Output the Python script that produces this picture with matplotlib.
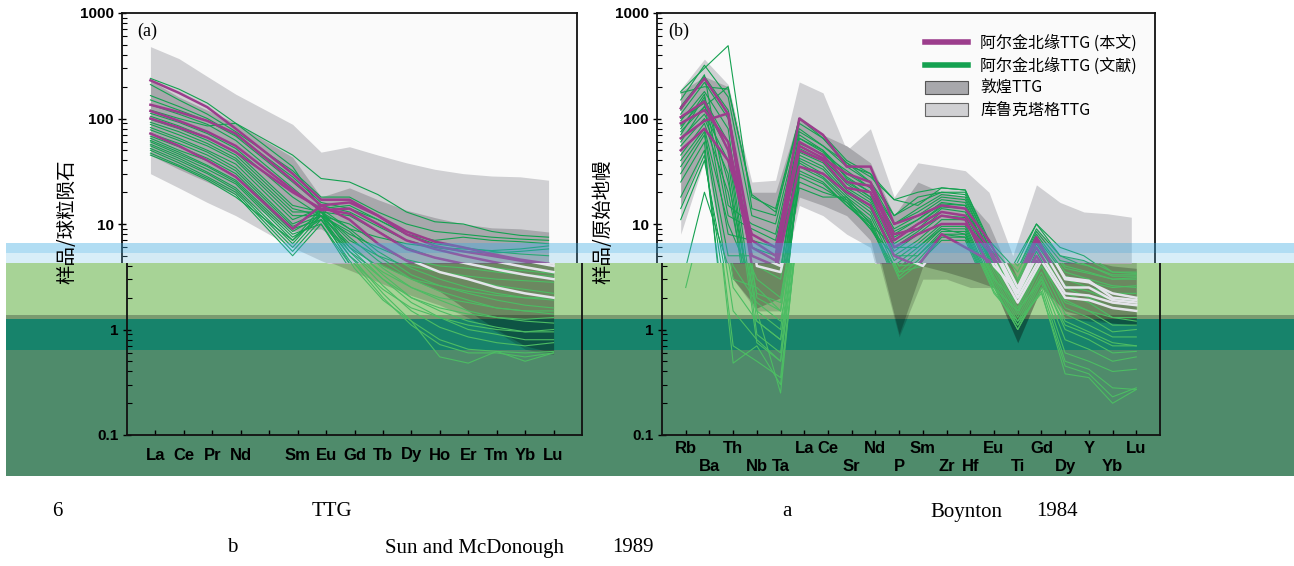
import numpy as np
import matplotlib
matplotlib.use("Agg")
import matplotlib.pyplot as plt
import matplotlib.ticker as mticker
from matplotlib.patches import Rectangle, Patch
from matplotlib.lines import Line2D
from matplotlib.transforms import Bbox, TransformedBbox
from matplotlib.font_manager import FontProperties

plt.rcParams["font.family"] = ["Liberation Sans", "DejaVu Sans"]
CJK = ["Noto Sans CJK SC", "DejaVu Sans"]
SERIF = ["Liberation Serif", "DejaVu Serif"]

# ─────────────────────────────────────────────
# DATA  (a) chondrite-normalised REE
# ─────────────────────────────────────────────
ree_labels = ["La", "Ce", "Pr", "Nd", "", "Sm", "Eu", "Gd", "Tb", "Dy", "Ho", "Er", "Tm", "Yb", "Lu"]
ree_pos = [1, 2, 3, 4, 6, 7, 8, 9, 10, 11, 12, 13, 14, 15]   # Pm (5) has no data

kl_hi_a = [480, 370, 250, 170, 88, 48, 54, 45, 38, 33, 30, 28.5, 28, 26]
kl_lo_a = [30, 22, 16, 12, 6, 4.5, 3.5, 2.7, 2.1, 1.7, 1.3, 0.95, 0.65, 0.58]
dh_hi_a = [230, 160, 120, 90, 43, 18, 22, 17, 13.5, 11.5, 10, 9.2, 9, 8.4]
dh_lo_a = [45, 33, 25, 19, 8.5, 9, 6, 4, 3, 2.3, 1.5, 1.0, 0.7, 0.6]

mag_a = [
    [230, 175, 128, 80, 30, 17, 17, 12, 8, 6.2, 5.5, 5, 4.5, 4],
    [135, 115, 95, 72, 26, 15, 16, 12, 8.5, 6.8, 6, 5.2, 4.6, 4.2],
    [118, 95, 75, 55, 21, 13.5, 14, 10, 7, 5.8, 5, 4.4, 3.9, 3.5],
    [100, 82, 66, 48, 20, 14, 12.5, 8.5, 5.8, 4.8, 4.2, 3.7, 3.3, 3.0],
    [72, 55, 40, 28, 9, 15, 11, 6.5, 4.5, 3.5, 3.0, 2.5, 2.2, 2.0],
]

grn_a = [
    [240, 190, 140, 90, 45, 27, 25, 19, 13, 10.5, 10, 8.5, 7.8, 7.5],
    [210, 150, 110, 75, 32, 18, 18, 13, 10, 8.5, 8, 7.5, 7.2, 7.0],
    [165, 130, 100, 70, 28, 16, 14, 11, 8, 6.5, 6, 5.5, 5.2, 5.0],
    [150, 120, 95, 68, 25, 15, 13, 9.5, 7, 6, 5.5, 5.3, 5.5, 5.8],
    [135, 110, 88, 62, 22, 13, 12, 8.5, 6, 4.8, 4.2, 3.8, 3.6, 3.4],
    [120, 100, 85, 90, 35, 14, 15, 11, 8, 7, 7.5, 7, 6.8, 6.5],
    [112, 92, 72, 52, 18, 12, 10, 6.5, 4.5, 3.5, 3.0, 2.6, 2.4, 2.2],
    [105, 85, 66, 48, 15, 13, 9, 5.5, 3.8, 3.0, 2.5, 2.2, 2.0, 1.9],
    [98, 80, 62, 45, 14, 12, 8.5, 5, 3.3, 2.6, 2.2, 1.9, 1.7, 1.6],
    [92, 75, 58, 42, 13, 13, 7.5, 4.5, 3.0, 2.3, 1.9, 1.6, 1.5, 1.4],
    [88, 70, 55, 40, 12, 12, 6.5, 3.8, 2.5, 1.9, 1.5, 1.3, 1.2, 1.15],
    [82, 65, 50, 37, 11, 14, 6, 3.3, 2.0, 1.5, 1.2, 1.05, 0.95, 0.95],
    [78, 62, 48, 34, 10, 13, 5.5, 3.0, 1.8, 1.3, 1.0, 0.9, 0.8, 0.8],
    [72, 58, 45, 32, 9.5, 12, 5, 2.6, 1.5, 1.05, 0.85, 0.75, 0.7, 0.75],
    [68, 54, 42, 30, 9, 11, 4.5, 2.2, 1.2, 0.8, 0.65, 0.62, 0.6, 0.62],
    [65, 50, 40, 28, 8.5, 12, 4.2, 2.0, 1.1, 0.72, 0.6, 0.6, 0.55, 0.6],
    [62, 48, 36, 26, 8, 10, 3.8, 1.9, 1.2, 0.55, 0.48, 0.62, 0.5, 0.6],
    [60, 46, 35, 25, 7.5, 11, 5.5, 3.5, 2.5, 2.0, 1.8, 1.6, 1.5, 1.5],
    [57, 44, 33, 24, 7, 12, 6, 4, 3, 2.6, 2.3, 2.1, 2.0, 2.0],
    [55, 42, 31, 22, 6.5, 13, 7, 5, 4, 3.5, 3.2, 3.0, 2.9, 2.8],
    [52, 40, 30, 21, 6, 12, 8, 6, 4.6, 4, 3.8, 3.5, 3.3, 3.2],
    [50, 38, 28, 20, 5.5, 11, 5, 3, 2, 1.6, 1.4, 1.3, 1.25, 1.3],
    [47, 36, 27, 19, 5, 10, 4.2, 2.4, 1.6, 1.3, 1.1, 1.0, 0.95, 1.0],
    [45, 35, 26, 18, 7, 14, 9, 7.5, 6.5, 6, 5.8, 5.6, 5.8, 6.2],
]

# ─────────────────────────────────────────────
# DATA  (b) primitive-mantle-normalised spider
# ─────────────────────────────────────────────
spd_labels = ["Rb", "Ba", "Th", "Nb", "Ta", "La", "Ce", "Sr", "Nd", "P",
              "Sm", "Zr", "Hf", "Eu", "Ti", "Gd", "Dy", "Y", "Yb", "Lu"]
spd_row = [0, 1, 0, 1, 1, 0, 0, 1, 0, 1, 0, 1, 1, 0, 1, 0, 1, 0, 1, 0]
spd_pos = list(range(1, 21))

kl_hi_b = [190, 365, 210, 25, 26, 222, 175, 50, 80, 18, 38, 35, 32, 20, 5, 23.5, 16, 13, 12.5, 11.6]
kl_lo_b = [8, 40, 3, 1.5, 1.5, 15, 12, 8, 6, 0.85, 3, 3, 2.5, 2.5, 0.75, 2.5, 1.3, 1.2, 1.15, 1.1]
dh_hi_b = [180, 250, 200, 20, 20, 105, 70, 55, 38, 12, 25, 20, 18, 10, 3, 9, 5, 4.5, 4, 3.8]
dh_lo_b = [15, 50, 3, 1.6, 2, 18, 15, 12, 7, 0.9, 4, 3.5, 3, 2.5, 0.75, 2.5, 1.5, 1.3, 1.15, 1.1]

mag_b = [
    [125, 240, 110, 7, 5, 100, 70, 35, 35, 10, 12, 15, 14, 7, 2.5, 7.5, 3, 2.8, 2.2, 2.0],
    [103, 145, 50, 5, 4, 60, 45, 25, 23, 7, 10, 13, 12, 6, 2.2, 6, 2.5, 2.5, 1.9, 1.8],
    [90, 120, 60, 6, 4.5, 50, 40, 22, 20, 6, 8, 10, 10, 5.5, 2, 5, 2.2, 2.1, 1.8, 1.7],
    [65, 95, 112, 4, 3.5, 35, 30, 20, 15, 5, 4, 8, 6, 4.5, 1.8, 4.5, 2.0, 1.9, 1.6, 1.5],
    [50, 80, 40, 8, 6, 55, 42, 30, 25, 8, 9, 12, 11, 4, 2.3, 7, 3.1, 2.9, 2.0, 1.9],
]

grn_b = [
    [180, 300, 490, 14, 12, 100, 70, 40, 30, 12, 18, 20, 19, 6, 3, 9, 5, 4.5, 3.5, 3.5],
    [175, 200, 190, 19, 13, 90, 65, 38, 28, 17, 15, 22, 21, 6.5, 3.5, 10, 6, 5, 3.5, 3.4],
    [150, 320, 160, 12, 10, 80, 55, 35, 25, 10, 14, 19, 18, 5.5, 2.8, 8, 4, 3.5, 3.0, 3.0],
    [130, 250, 120, 6, 5, 70, 50, 30, 22, 9, 12, 17, 16, 5, 2.5, 7, 3.5, 3, 2.6, 2.5],
    [110, 220, 100, 4, 3, 65, 48, 28, 20, 8, 11, 16, 15, 4.8, 2.2, 6.5, 3, 2.5, 2.2, 2.2],
    [95, 180, 80, 2, 1.5, 60, 45, 25, 18, 7, 10, 15, 14, 4.5, 2, 6, 2.5, 2.0, 1.6, 1.5],
    [85, 150, 60, 1.5, 1.0, 55, 42, 24, 17, 6.5, 9, 14, 13, 4.2, 1.8, 5.5, 2.2, 1.8, 1.3, 1.3],
    [75, 130, 50, 1.2, 0.8, 50, 40, 22, 16, 6, 8.5, 13, 12, 4, 1.6, 5, 1.9, 1.5, 1.1, 1.1],
    [65, 110, 40, 0.9, 0.6, 48, 38, 21, 15, 5.5, 8, 12, 11.5, 3.8, 1.5, 4.5, 1.6, 1.3, 0.95, 1.0],
    [55, 100, 30, 0.75, 0.5, 45, 35, 20, 14, 5, 7, 11, 11, 3.5, 1.4, 4, 1.4, 1.1, 0.85, 0.85],
    [45, 90, 20, 1.5, 0.25, 42, 33, 19, 13, 4.5, 6.5, 10, 10, 3.2, 1.3, 3.5, 1.2, 0.95, 0.75, 0.7],
    [40, 80, 10, 3, 2, 40, 30, 18, 12, 4, 6, 9.5, 9.5, 3, 1.2, 3.2, 1.0, 0.8, 0.6, 0.62],
    [35, 75, 5, 5, 4, 38, 28, 17, 11, 3.5, 5.5, 9, 9, 2.8, 1.1, 3, 0.8, 0.65, 0.5, 0.55],
    [30, 70, 3, 2.5, 1.5, 35, 27, 16, 10.5, 3.2, 5, 8.5, 8.5, 2.6, 1.0, 2.8, 0.6, 0.5, 0.4, 0.42],
    [25, 60, 0.48, 0.7, 0.3, 32, 25, 15, 10, 3, 4.5, 8, 8, 2.5, 1.0, 2.5, 0.5, 0.42, 0.28, 0.27],
    [18, 50, 0.7, 0.5, 0.35, 30, 24, 15, 9.5, 3.5, 4, 7.5, 7.5, 2.3, 1.1, 2.3, 0.38, 0.35, 0.2, 0.27],
    [14, 45, 1.5, 0.8, 0.5, 28, 22, 16, 9, 4, 4.2, 7, 7, 2.2, 1.2, 2.2, 0.45, 0.38, 0.23, 0.28],
    [11, 40, 2.5, 1.2, 0.8, 25, 20, 17, 9, 5, 5, 8, 7.5, 2.5, 1.5, 3, 1.1, 0.9, 0.7, 0.7],
    [2.5, 20, 4, 1.8, 1.2, 22, 18, 18, 10, 6, 6, 9, 8, 3, 1.8, 4, 1.8, 1.5, 1.3, 1.2],
    [60, 130, 200, 18, 14, 100, 65, 36, 30, 17, 20, 22, 21, 7, 4, 10, 5, 4, 3.2, 3.2],
    [120, 260, 15, 10, 8, 75, 55, 38, 25, 12, 16, 20, 20, 6, 3, 8.5, 4.5, 4, 3.3, 3.3],
    [100, 140, 8, 7, 6, 58, 46, 32, 22, 10, 13, 18, 17, 5.5, 2.6, 7.5, 3.8, 3.4, 3.0, 3.1],
    [80, 170, 12, 9, 7, 65, 50, 27, 20, 8.5, 11, 15.5, 15, 5, 2.4, 6.8, 3.2, 2.8, 2.5, 2.6],
    [70, 160, 25, 2.2, 1.8, 52, 40, 26, 18, 7.5, 10, 14.5, 14, 4.6, 2.1, 6, 2.6, 2.3, 1.9, 1.9],
]

legend_labels = ["阿尔金北缘TTG (本文)", "阿尔金北缘TTG (文献)", "敦煌TTG", "库鲁克塔格TTG"]
y_ticks = [0.1, 1, 10, 100, 1000]
y_labels_top = ["", "", "10", "100", "1000"]
y_labels_low = ["0.1", "1", "", "", ""]

# ─────────────────────────────────────────────
# FIGURE
# ─────────────────────────────────────────────
W, H = 1294, 566
fig = plt.figure(figsize=(W / 100, H / 100), dpi=100, facecolor="white")


def fx(px):
    return px / W


def fy(py):
    return 1 - py / H


CUT = 263          # pixel row where the tinted lower strip starts
TOP = dict(bg="#fafafa", kl="#d0d0d3", kl_a=1.0, dh="#a8a8ac", dh_a=1.0,
           grn="#14a150", mag="#9c3d8c", top=True)
LOW = dict(bg="none", kl="black", kl_a=0.17, dh="black", dh_a=0.22,
           grn="#4cbd63", mag="#e4e4ea", top=False)


def draw_panel(ax, pos, nx, envs, greens, mags, st, xlabels, rows, xpad):
    ax.set_facecolor(st["bg"])
    kl_lo, kl_hi, dh_lo, dh_hi = envs
    ax.fill_between(pos, kl_lo, kl_hi, color=st["kl"], alpha=st["kl_a"], lw=0)
    ax.fill_between(pos, dh_lo, dh_hi, color=st["dh"], alpha=st["dh_a"], lw=0)
    for g in greens:
        ax.plot(pos, g, color=st["grn"], lw=0.8)
    for m in mags:
        ax.plot(pos, m, color=st["mag"], lw=1.8)

    ax.set_yscale("log")
    ax.set_ylim(0.1, 1000)
    ax.set_xlim(0, nx)
    ax.yaxis.set_major_locator(mticker.FixedLocator(y_ticks))
    ax.yaxis.set_major_formatter(mticker.FixedFormatter(y_labels_top if st["top"] else y_labels_low))
    ax.yaxis.set_minor_locator(mticker.LogLocator(base=10, subs=np.arange(2, 10)))
    ax.yaxis.set_minor_formatter(mticker.NullFormatter())
    ax.set_xticks(range(1, nx))
    if st["top"]:
        ax.set_xticklabels([""] * (nx - 1))
    else:
        ax.set_xticklabels([("\n" if r else "") + t for t, r in zip(xlabels, rows)])
    ax.tick_params(axis="y", which="major", direction="inout", length=6, width=1,
                   labelsize=11, pad=3)
    ax.tick_params(axis="y", which="minor", direction="in", length=3.5, width=0.8)
    ax.tick_params(axis="x", direction="in", length=3.5, width=1, labelsize=12, pad=xpad)
    for s in ax.spines.values():
        s.set_linewidth(1.3)
        s.set_color("#111111")


def panel_a(ax, st):
    draw_panel(ax, ree_pos, 16, (kl_lo_a, kl_hi_a, dh_lo_a, dh_hi_a), grn_a, mag_a, st,
               ree_labels, [0] * 15, 9)
    if st["top"]:
        ax.text(0.033, 0.957, "(a)", transform=ax.transAxes, family=SERIF,
                fontsize=13, ha="left", va="center")


def panel_b(ax, st):
    draw_panel(ax, spd_pos, 21, (kl_lo_b, kl_hi_b, dh_lo_b, dh_hi_b), grn_b, mag_b, st,
               spd_labels, spd_row, 4.5)
    if st["top"]:
        ax.text(0.022, 0.957, "(b)", transform=ax.transAxes, family=SERIF,
                fontsize=13, ha="left", va="center")
        handles = [Line2D([], [], color=st["mag"], lw=4),
                   Line2D([], [], color=st["grn"], lw=4),
                   Patch(facecolor=TOP["dh"], edgecolor="#555555", lw=0.8),
                   Patch(facecolor=TOP["kl"], edgecolor="#666666", lw=0.8)]
        ax.legend(handles, legend_labels, loc="upper left", bbox_to_anchor=(0.538, 0.948),
                  frameon=False, prop=FontProperties(family=CJK, size=11.5),
                  handlelength=2.7, handleheight=0.85, handletextpad=0.75,
                  labelspacing=0.33, borderpad=0, borderaxespad=0)


AH = 422 / H
ax_a_top = fig.add_axes([fx(122), fy(435), fx(455), AH])
ax_a_low = fig.add_axes([fx(127), fy(435), fx(455), AH])
ax_b_top = fig.add_axes([fx(657), fy(435), fx(498), AH])
ax_b_low = fig.add_axes([fx(662), fy(435), fx(498), AH])

panel_a(ax_a_top, TOP)
panel_a(ax_a_low, LOW)
panel_b(ax_b_top, TOP)
panel_b(ax_b_low, LOW)

# y labels, drawn once each
fig.text(fx(67), fy(222), "样品/球粒陨石", family=CJK, fontsize=14, rotation=90,
         ha="center", va="center", zorder=6)
fig.text(fx(603), fy(222), "样品/原始地幔", family=CJK, fontsize=14, rotation=90,
         ha="center", va="center", zorder=6)


# colour strips across the figure
def band(y0, y1, color, alpha=1.0, z=-1):
    fig.add_artist(Rectangle((fx(6), fy(y1)), fx(W - 6), (y1 - y0) / H,
                             transform=fig.transFigure, facecolor=color,
                             alpha=alpha, lw=0, zorder=z))


band(CUT, 315, "#a7d396")
band(315, 319, "#7a9a70")
band(319, 350, "#17836b")
band(350, 476, "#4f8b6b")
band(243, 253, "#3caae1", alpha=0.4, z=5)
band(253, CUT, "#64bee6", alpha=0.25, z=5)

# caption fragments (the Chinese part of the caption shows as blank)
cap = dict(family=SERIF, fontsize=15, va="center", ha="left")
fig.text(fx(52), fy(512), "6", **cap)
fig.text(fx(312), fy(512), "TTG", **cap)
fig.text(fx(782), fy(512), "a", **cap)
fig.text(fx(930), fy(512), "Boynton", **cap)
fig.text(fx(1036), fy(512), "1984", **cap)
fig.text(fx(227), fy(548), "b", **cap)
fig.text(fx(385), fy(548), "Sun and McDonough", **cap)
fig.text(fx(612), fy(548), "1989", **cap)

# clip each copy of the panels to its strip
fig.canvas.draw()
top_box = TransformedBbox(Bbox.from_extents(0, fy(CUT), 1, 1), fig.transFigure)
low_box = TransformedBbox(Bbox.from_extents(0, 0, 1, fy(CUT)), fig.transFigure)
for ax, box in [(ax_a_top, top_box), (ax_b_top, top_box), (ax_a_low, low_box), (ax_b_low, low_box)]:
    for lbl in ax.get_xticklabels() + ax.get_yticklabels():
        lbl.set_fontweight("bold")
    for art in ax.findobj():
        if art is ax:
            continue
        art.set_clip_box(box)
        art.set_clip_on(True)

fig.savefig("out.png", dpi=100, facecolor="white")
